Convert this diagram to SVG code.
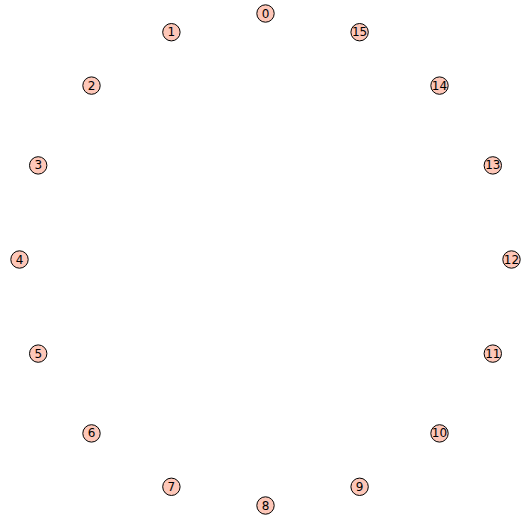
<svg xmlns="http://www.w3.org/2000/svg" width="521" height="521" viewBox="0 0 521 521">
<style>
.n circle{fill:#fec7b8;stroke:#000;stroke-width:1}
.n text{font-family:"DejaVu Sans",sans-serif;font-size:12px;text-anchor:middle;dominant-baseline:central;fill:#000}
</style>
<rect width="521" height="521" fill="#fff"/>
<g id="connectors"></g>
<g id="node0" class="n"><circle cx="265.5" cy="13.5" r="8.7"/><text x="265.5" y="13.5">0</text></g>
<g id="node1" class="n"><circle cx="171.4" cy="32.2" r="8.7"/><text x="171.4" y="32.2">1</text></g>
<g id="node2" class="n"><circle cx="91.5" cy="85.6" r="8.7"/><text x="91.5" y="85.6">2</text></g>
<g id="node3" class="n"><circle cx="38.2" cy="165.4" r="8.7"/><text x="38.2" y="165.4">3</text></g>
<g id="node4" class="n"><circle cx="19.5" cy="259.5" r="8.7"/><text x="19.5" y="259.5">4</text></g>
<g id="node5" class="n"><circle cx="38.2" cy="353.6" r="8.7"/><text x="38.2" y="353.6">5</text></g>
<g id="node6" class="n"><circle cx="91.5" cy="433.4" r="8.7"/><text x="91.5" y="433.4">6</text></g>
<g id="node7" class="n"><circle cx="171.4" cy="486.8" r="8.7"/><text x="171.4" y="486.8">7</text></g>
<g id="node8" class="n"><circle cx="265.5" cy="505.5" r="8.7"/><text x="265.5" y="505.5">8</text></g>
<g id="node9" class="n"><circle cx="359.6" cy="486.8" r="8.7"/><text x="359.6" y="486.8">9</text></g>
<g id="node10" class="n"><circle cx="439.5" cy="433.4" r="8.7"/><text x="439.5" y="433.4">10</text></g>
<g id="node11" class="n"><circle cx="492.8" cy="353.6" r="8.7"/><text x="492.8" y="353.6">11</text></g>
<g id="node12" class="n"><circle cx="511.5" cy="259.5" r="8.7"/><text x="511.5" y="259.5">12</text></g>
<g id="node13" class="n"><circle cx="492.8" cy="165.4" r="8.7"/><text x="492.8" y="165.4">13</text></g>
<g id="node14" class="n"><circle cx="439.5" cy="85.6" r="8.7"/><text x="439.5" y="85.6">14</text></g>
<g id="node15" class="n"><circle cx="359.6" cy="32.2" r="8.7"/><text x="359.6" y="32.2">15</text></g>
</svg>
